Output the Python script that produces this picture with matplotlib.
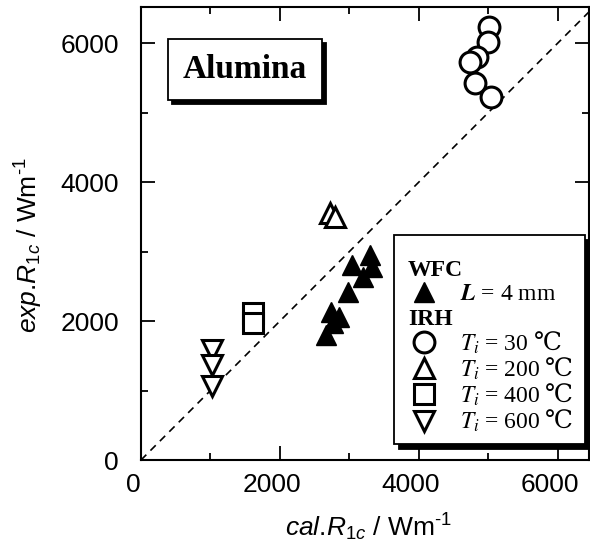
import matplotlib.pyplot as plt
from matplotlib.lines import Line2D
from matplotlib.patches import Shadow
from matplotlib.ticker import MultipleLocator, FixedLocator
from matplotlib.transforms import ScaledTranslation, IdentityTransform
from matplotlib.font_manager import FontProperties

plt.rcParams['mathtext.fontset'] = 'custom'
plt.rcParams['mathtext.rm'] = 'Liberation Sans'
plt.rcParams['mathtext.it'] = 'Liberation Sans:italic'

# WFC, L = 4 mm  (cal, exp)
wfc_cal = [3290, 3045, 3320, 3190, 2975, 2730, 2845, 2770, 2670]
wfc_exp = [2950, 2805, 2780, 2633, 2417, 2130, 2060, 1970, 1800]
# IRH at several Ti
irh30_cal = [5015, 4990, 4840, 4740, 4810, 5040]
irh30_exp = [6230, 6015, 5800, 5730, 5420, 5225]
irh200_cal = [2715, 2790]
irh200_exp = [3554, 3500]
irh400_cal = [1610, 1610]
irh400_exp = [2115, 1971]
irh600_cal = [1020, 1020, 1020]
irh600_exp = [1583, 1367, 1065]

ticks = [0, 2000, 4000, 6000]
tick_labels = ['0', '2000', '4000', '6000']
diag = [0, 6600]
temps = ['30', '200', '400', '600']

fig = plt.figure(figsize=(5.9, 5.57), dpi=100)
ax = fig.add_axes([141/590, 1 - 460/557, 448/590, 453/557])

ax.plot(diag, diag, color='k', lw=1.2, ls=(0, (4.5, 3.5)), zorder=1)

ms = 15
mew = 2.2
l_wfc, = ax.plot(wfc_cal, wfc_exp, '^', color='k', ms=ms, ls='none', zorder=3)
l30, = ax.plot(irh30_cal, irh30_exp, 'o', mfc='white', mec='k', mew=mew, ms=ms, ls='none', zorder=3)
l200, = ax.plot(irh200_cal, irh200_exp, '^', mfc='white', mec='k', mew=mew, ms=ms, ls='none', zorder=3)
l400, = ax.plot(irh400_cal, irh400_exp, 's', mfc='white', mec='k', mew=mew, ms=ms - 1, ls='none', zorder=3)
l600, = ax.plot(irh600_cal, irh600_exp, 'v', mfc='white', mec='k', mew=mew, ms=ms, ls='none', zorder=3)

ax.set_xlim(0, 6450)
ax.set_ylim(0, 6520)
ax.xaxis.set_major_locator(FixedLocator(ticks))
ax.yaxis.set_major_locator(FixedLocator(ticks))
ax.set_xticklabels(tick_labels)
ax.set_yticklabels(tick_labels)
ax.xaxis.set_minor_locator(MultipleLocator(1000))
ax.yaxis.set_minor_locator(MultipleLocator(1000))
for s in ax.spines.values():
    s.set_linewidth(1.5)
ax.tick_params(which='both', direction='in', top=True, right=True, width=1.3)
ax.tick_params(which='major', length=10)
ax.tick_params(which='minor', length=5)
ax.tick_params(axis='x', which='major', labelsize=19, pad=9)
ax.tick_params(axis='y', which='major', labelsize=19, pad=16)
for t in ax.get_xticklabels():
    t.set_family('Liberation Sans')
    t.set_transform(t.get_transform() + ScaledTranslation(-8/100, 0, fig.dpi_scale_trans))
for t in ax.get_yticklabels():
    t.set_family('Liberation Sans')

ax.set_xlabel('$\\mathit{cal}$.$\\mathit{R}_{\\mathit{1c}}$ / Wm$^{\u20101}$', fontsize=19,
              family='Liberation Sans', labelpad=11)
ax.set_ylabel('$\\mathit{exp}$.$\\mathit{R}_{\\mathit{1c}}$ / Wm$^{\u20101}$', fontsize=19,
              family='Liberation Sans', labelpad=11)
ax.xaxis.label.set_x(0.507)
ax.yaxis.label.set_y(0.475)

# Alumina label (shadow added after the first draw)
title = ax.text(0.232, 0.863, 'Alumina', transform=ax.transAxes, ha='center', va='center',
                fontsize=24, fontweight='bold', family='Liberation Serif',
                bbox=dict(boxstyle='square,pad=0.45', fc='white', ec='k', lw=1.3), zorder=6)

blank = Line2D([], [], ls='none', marker='none')
handles = [blank, l_wfc, blank, l30, l200, l400, l600]
labels = ['WFC', r'$\mathbfit{L}$ = 4 mm', 'IRH'] + [r'$T_i$ = ' + v for v in temps]
prop = FontProperties(family='Liberation Serif', size=17, math_fontfamily='stix')
leg = ax.legend(handles, labels, loc='upper left', bbox_to_anchor=(0.565, 0.497), prop=prop,
                frameon=True, fancybox=False, edgecolor='k', framealpha=1,
                borderpad=0.72, handlelength=1.1, handletextpad=1.47, labelspacing=0.12,
                borderaxespad=0, shadow={'ox': 3.6, 'oy': -3.6, 'color': 'k', 'alpha': 1})
leg.get_frame().set_linewidth(1.3)
leg.set_zorder(7)

# nudge legend contents: everything down a little, labels left, headers further left
down = ScaledTranslation(0, -7.5/100, fig.dpi_scale_trans)
for h in leg.legend_handles:
    h.set_transform(h.get_transform() + down)
texts = leg.get_texts()
for i, t in enumerate(texts):
    dx = -64 if i in (0, 2) else -12
    t.set_transform(t.get_transform() + ScaledTranslation(dx/100, -7.5/100, fig.dpi_scale_trans))
    if i in (0, 2):
        t.set_fontweight('bold')

fig.canvas.draw()
renderer = fig.canvas.get_renderer()

sh = Shadow(title.get_bbox_patch(), 2.9, -2.9, color='k', alpha=1)
sh.set_zorder(5.5)
ax.add_artist(sh)

# degree Celsius sign after each temperature (not in the STIX font)
for t in texts[3:]:
    x0, y0 = t.get_transform().transform(t.get_position())
    w, h, d = renderer.get_text_width_height_descent(t.get_text(), t.get_fontproperties(), ismath=True)
    fig.text(x0 + w + 5, y0, '\u2103', transform=IdentityTransform(), ha='left', va='baseline',
             fontsize=18, family=['DejaVu Serif', 'Noto Sans CJK JP'], zorder=8)

fig.savefig('out.png', dpi=100)
